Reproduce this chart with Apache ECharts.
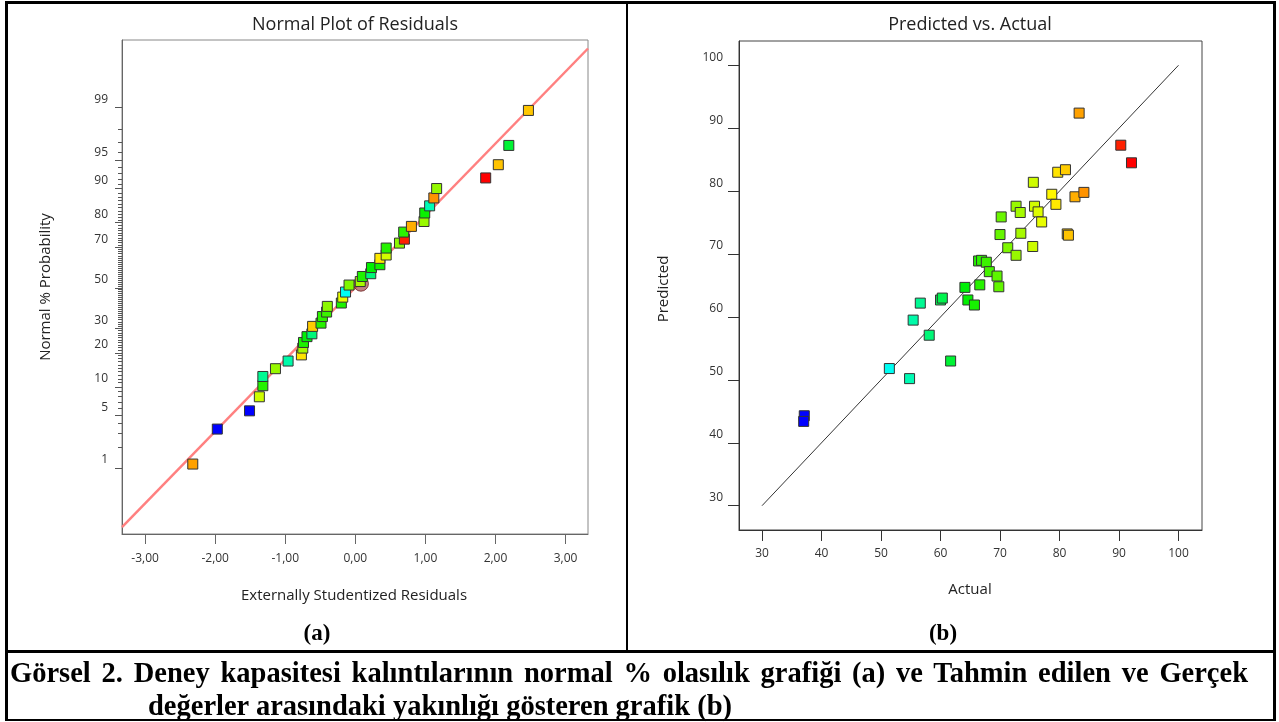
<!DOCTYPE html>
<html lang="tr">
<head>
<meta charset="UTF-8">
<title>Görsel 2</title>
<style>
    body { margin: 0; background: #fff; }
    #page { position: relative; width: 1279px; height: 722px; overflow: hidden; }
    #main { position: absolute; left: 0; top: 0; width: 1279px; height: 722px; }
    .rule { position: absolute; background: #000; }
    .cap {
        position: absolute;
        font-family: "Liberation Serif", "Times New Roman", serif;
        font-weight: bold;
        color: #000;
        white-space: nowrap;
    }
    .justify { text-align: justify; text-align-last: justify; white-space: normal; }
</style>
</head>
<body>
<div id="page">
    <div id="main"></div>
    <!-- table lines -->
    <div class="rule" style="left:5px;top:1px;width:1271px;height:3px"></div>
    <div class="rule" style="left:5px;top:1px;width:3px;height:720px"></div>
    <div class="rule" style="left:1273px;top:1px;width:3px;height:720px"></div>
    <div class="rule" style="left:626px;top:1px;width:2px;height:651px"></div>
    <div class="rule" style="left:5px;top:650px;width:1271px;height:3px"></div>
    <div class="rule" style="left:5px;top:719px;width:1271px;height:2px"></div>
    <div class="cap" style="left:290px;top:620px;width:54px;text-align:center;font-size:23px">(a)</div>
    <div class="cap" style="left:916px;top:620px;width:54px;text-align:center;font-size:23px">(b)</div>
    <div class="cap justify" style="left:10px;top:656px;width:1238px;font-size:28.5px;line-height:33px">Görsel 2. Deney kapasitesi kalıntılarının normal % olasılık grafiği (a) ve Tahmin edilen ve Gerçek</div>
    <div class="cap" style="left:148px;top:689px;font-size:28.5px;line-height:33px">değerler arasındaki yakınlığı gösteren grafik (b)</div>
</div>
<script src="https://cdn.jsdelivr.net/npm/echarts@6/dist/echarts.min.js"></script>
<script>
    // (a) normal plot: residuals, normal % probability, colour value (actual)
    const normRes = [-2.32, -1.97, -1.51, -1.37, -1.32, -1.32, -1.14, -0.96, -0.77, -0.75,
        -0.74, -0.69, -0.62, -0.61, -0.49, -0.47, -0.41, -0.40, -0.20, -0.18,
        -0.14, -0.09, 0.07, 0.10, 0.22, 0.23, 0.35, 0.35, 0.44, 0.44,
        0.63, 0.70, 0.69, 0.80, 0.98, 0.99, 1.06, 1.12, 1.16, 1.86,
        2.04, 2.19, 2.47];
    const normPct = [1.14, 3.4, 5.6, 7.96, 10.3, 12.6, 14.8, 17.2, 19.3, 21.8,
        24.0, 26.4, 27.6, 30.9, 32.4, 35.5, 37.7, 40.5, 42.2, 45.2,
        47.8, 51.4, 53.2, 55.8, 57.2, 60.3, 61.7, 64.8, 66.4, 69.6,
        71.8, 73.5, 76.4, 78.6, 80.4, 83.3, 85.5, 87.7, 90.0, 92.2,
        94.4, 96.7, 98.9];
    const normAct = [83.3, 37.1, 37.0, 75.6, 66.5, 56.6, 72.7, 55.4, 79.7, 73.4,
        66.0, 64.1, 58.0, 81.0, 66.6, 66.9, 67.7, 72.0, 66.0, 77.0,
        51.4, 71.3, 73.5, 66.2, 58.1, 64.6, 65.7, 79.4, 75.8, 66.5,
        72.0, 90.3, 66.8, 82.6, 72.7, 65.0, 54.8, 84.1, 72.5, 92.1,
        81.5, 61.7, 81.3];
    const fitLine = [[-3.33, 0.1], [3.32, 99.9]];   // residual, %
    const markedPoint = [[0.08, 52.1]];

    // (b) predicted vs actual
    const actual = [37.1, 37.0, 51.4, 54.8, 55.4, 56.6, 58.1, 60.0, 60.3, 61.7,
        64.1, 64.6, 65.7, 66.6, 66.4, 66.9, 67.7, 68.2, 69.5, 69.8,
        70.0, 70.2, 71.3, 72.7, 72.7, 73.4, 73.5, 75.5, 75.6, 75.8,
        76.4, 77.0, 78.7, 79.4, 79.7, 81.0, 81.3, 81.5, 82.6, 83.3,
        84.1, 90.3, 92.1];
    const predicted = [44.3, 43.4, 51.8, 50.2, 59.5, 62.2, 57.1, 62.7, 63.0, 53.0,
        64.7, 62.7, 61.9, 65.1, 68.9, 69.0, 68.7, 67.2, 66.5, 64.8,
        73.1, 75.9, 71.0, 69.8, 77.6, 76.6, 73.3, 71.2, 81.4, 77.6,
        76.7, 75.1, 79.5, 77.9, 83.0, 83.4, 73.2, 73.0, 79.1, 92.4,
        79.8, 87.3, 84.5];
    const diagLine = [[30, 30], [100, 100]];

    // tick labels
    const probTicks = [1, 5, 10, 20, 30, 50, 70, 80, 90, 95, 99];
    const resTicks = [-3, -2, -1, 0, 1, 2, 3];
    const actTicks = [30, 40, 50, 60, 70, 80, 90, 100];

    // inverse normal cdf (Acklam)
    function invNorm(p) {
        const a = [-3.969683028665376e+01, 2.209460984245205e+02, -2.759285104469687e+02, 1.383577518672690e+02, -3.066479806614716e+01, 2.506628277459239e+00];
        const b = [-5.447609879822406e+01, 1.615858368580409e+02, -1.556989798598866e+02, 6.680131188771972e+01, -1.328068155288572e+01];
        const c = [-7.784894002430293e-03, -3.223964580411365e-01, -2.400758277161838e+00, -2.549671010229297e+00, 4.374664141464968e+00, 2.938163982698783e+00];
        const d = [7.784695709041462e-03, 3.224671290700398e-01, 2.445134137142996e+00, 3.754408661907416e+00];
        const pl = 0.02425;
        let q, r;
        if (p < pl) {
            q = Math.sqrt(-2 * Math.log(p));
            return (((((c[0]*q+c[1])*q+c[2])*q+c[3])*q+c[4])*q+c[5]) / ((((d[0]*q+d[1])*q+d[2])*q+d[3])*q+1);
        }
        if (p <= 1 - pl) {
            q = p - 0.5; r = q * q;
            return (((((a[0]*r+a[1])*r+a[2])*r+a[3])*r+a[4])*r+a[5])*q / (((((b[0]*r+b[1])*r+b[2])*r+b[3])*r+b[4])*r+1);
        }
        q = Math.sqrt(-2 * Math.log(1 - p));
        return -(((((c[0]*q+c[1])*q+c[2])*q+c[3])*q+c[4])*q+c[5]) / ((((d[0]*q+d[1])*q+d[2])*q+d[3])*q+1);
    }
    const z = pct => invNorm(pct / 100);

    const majorZ = probTicks.map(z);
    const minorZ = [];
    for (let p = 2; p <= 98; p++) {
        if (probTicks.indexOf(p) < 0) minorZ.push(z(p));
    }
    function probLabel(v) {
        for (let i = 0; i < probTicks.length; i++) {
            if (Math.abs(majorZ[i] - v) < 1e-6) return String(probTicks[i]);
        }
        return '';
    }

    const font = '"Open Sans", "Noto Sans", sans-serif';
    const rampColors = ['#0000ff', '#00ffff', '#00f000', '#ffff00', '#ff0000'];
    const labelStyle = {fontFamily: font, fontSize: 12, color: '#333'};

    const myChart = echarts.init(document.getElementById('main'));

    const option = {
        animation: false,
        backgroundColor: 'transparent',
        grid: [
            {left: 122, top: 40, width: 466, height: 494, show: true, borderColor: '#888', borderWidth: 1},
            {left: 739, top: 41, width: 463, height: 489, show: true, borderColor: '#444', borderWidth: 1}
        ],
        xAxis: [
            {
                gridIndex: 0, type: 'value', min: -3.33, max: 3.32,
                axisLine: {onZero: false, lineStyle: {color: '#666'}},
                axisTick: {customValues: resTicks, length: 10, lineStyle: {color: '#666'}},
                axisLabel: Object.assign({customValues: resTicks, margin: 19,
                    formatter: v => v.toFixed(2).replace('.', ',')}, labelStyle),
                splitLine: {show: false}
            },
            {
                gridIndex: 1, type: 'value', min: 26.13, max: 103.95,
                axisLine: {onZero: false, lineStyle: {color: '#333'}},
                axisTick: {customValues: actTicks, length: 11, lineStyle: {color: '#333'}},
                axisLabel: Object.assign({customValues: actTicks, margin: 18}, labelStyle),
                splitLine: {show: false}
            }
        ],
        yAxis: [
            {
                gridIndex: 0, type: 'value', position: 'left', min: -3.18, max: 3.2,
                axisLine: {show: true, onZero: false, lineStyle: {color: '#666'}},
                axisTick: {show: true, customValues: majorZ, length: 7, lineStyle: {color: '#555'}},
                axisLabel: Object.assign({customValues: majorZ, margin: 14, formatter: probLabel,
                    verticalAlign: 'bottom', padding: [0, 0, 2, 0]}, labelStyle),
                splitLine: {show: false}
            },
            {
                gridIndex: 0, type: 'value', position: 'left', min: -3.18, max: 3.2,
                axisLine: {show: false, onZero: false},
                axisTick: {show: true, customValues: minorZ, length: 4, lineStyle: {color: '#555'}},
                axisLabel: {show: false},
                splitLine: {show: false}
            },
            {
                gridIndex: 1, type: 'value', position: 'left', min: 26.14, max: 103.86,
                axisLine: {show: true, onZero: false, lineStyle: {color: '#333'}},
                axisTick: {show: true, customValues: actTicks, length: 11, lineStyle: {color: '#333'}},
                axisLabel: Object.assign({customValues: actTicks, margin: 16,
                    verticalAlign: 'bottom', padding: [0, 0, 2, 0]}, labelStyle),
                splitLine: {show: false}
            }
        ],
        visualMap: [
            {type: 'continuous', show: false, seriesIndex: 2, dimension: 2, min: 37, max: 92,
                inRange: {color: rampColors}},
            {type: 'continuous', show: false, seriesIndex: 4, dimension: 0, min: 37, max: 92,
                inRange: {color: rampColors}}
        ],
        graphic: [
            {type: 'text', x: 355, y: 25, style: {text: 'Normal Plot of Residuals', font: '18px ' + font,
                fill: '#222', textAlign: 'center', textVerticalAlign: 'middle'}},
            {type: 'text', x: 970, y: 25, style: {text: 'Predicted vs. Actual', font: '18px ' + font,
                fill: '#222', textAlign: 'center', textVerticalAlign: 'middle'}},
            {type: 'text', x: 354, y: 596, style: {text: 'Externally Studentized Residuals', font: '15px ' + font,
                fill: '#222', textAlign: 'center', textVerticalAlign: 'middle'}},
            {type: 'text', x: 970, y: 590, style: {text: 'Actual', font: '15px ' + font,
                fill: '#222', textAlign: 'center', textVerticalAlign: 'middle'}},
            {type: 'text', x: 46, y: 287, rotation: Math.PI / 2, style: {text: 'Normal % Probability', font: '15px ' + font,
                fill: '#222', textAlign: 'center', textVerticalAlign: 'middle'}},
            {type: 'text', x: 664, y: 289, rotation: Math.PI / 2, style: {text: 'Predicted', font: '15px ' + font,
                fill: '#222', textAlign: 'center', textVerticalAlign: 'middle'}}
        ],
        series: [
            {
                type: 'line', xAxisIndex: 0, yAxisIndex: 0, z: 1,
                data: fitLine.map(d => [d[0], z(d[1])]),
                showSymbol: false, silent: true,
                lineStyle: {color: '#ff8080', width: 2.5}
            },
            {
                type: 'scatter', xAxisIndex: 0, yAxisIndex: 0, z: 2,
                data: markedPoint.map(d => [d[0], z(d[1])]),
                symbol: 'circle', symbolSize: 15,
                itemStyle: {color: 'rgba(150,45,45,0.75)', borderColor: '#6a2020', borderWidth: 1}
            },
            {
                type: 'scatter', xAxisIndex: 0, yAxisIndex: 0, z: 3,
                data: normRes.map((r, i) => [r, z(normPct[i]), normAct[i]]),
                symbol: 'rect', symbolSize: 10,
                itemStyle: {borderColor: '#333', borderWidth: 1, opacity: 1}
            },
            {
                type: 'line', xAxisIndex: 1, yAxisIndex: 2, z: 1,
                data: diagLine,
                showSymbol: false, silent: true,
                lineStyle: {color: '#333', width: 1}
            },
            {
                type: 'scatter', xAxisIndex: 1, yAxisIndex: 2, z: 3,
                data: actual.map((a, i) => [a, predicted[i]]),
                symbol: 'rect', symbolSize: 10,
                itemStyle: {borderColor: '#333', borderWidth: 1, opacity: 1}
            }
        ]
    };
    myChart.setOption(option);
</script>
</body>
</html>
